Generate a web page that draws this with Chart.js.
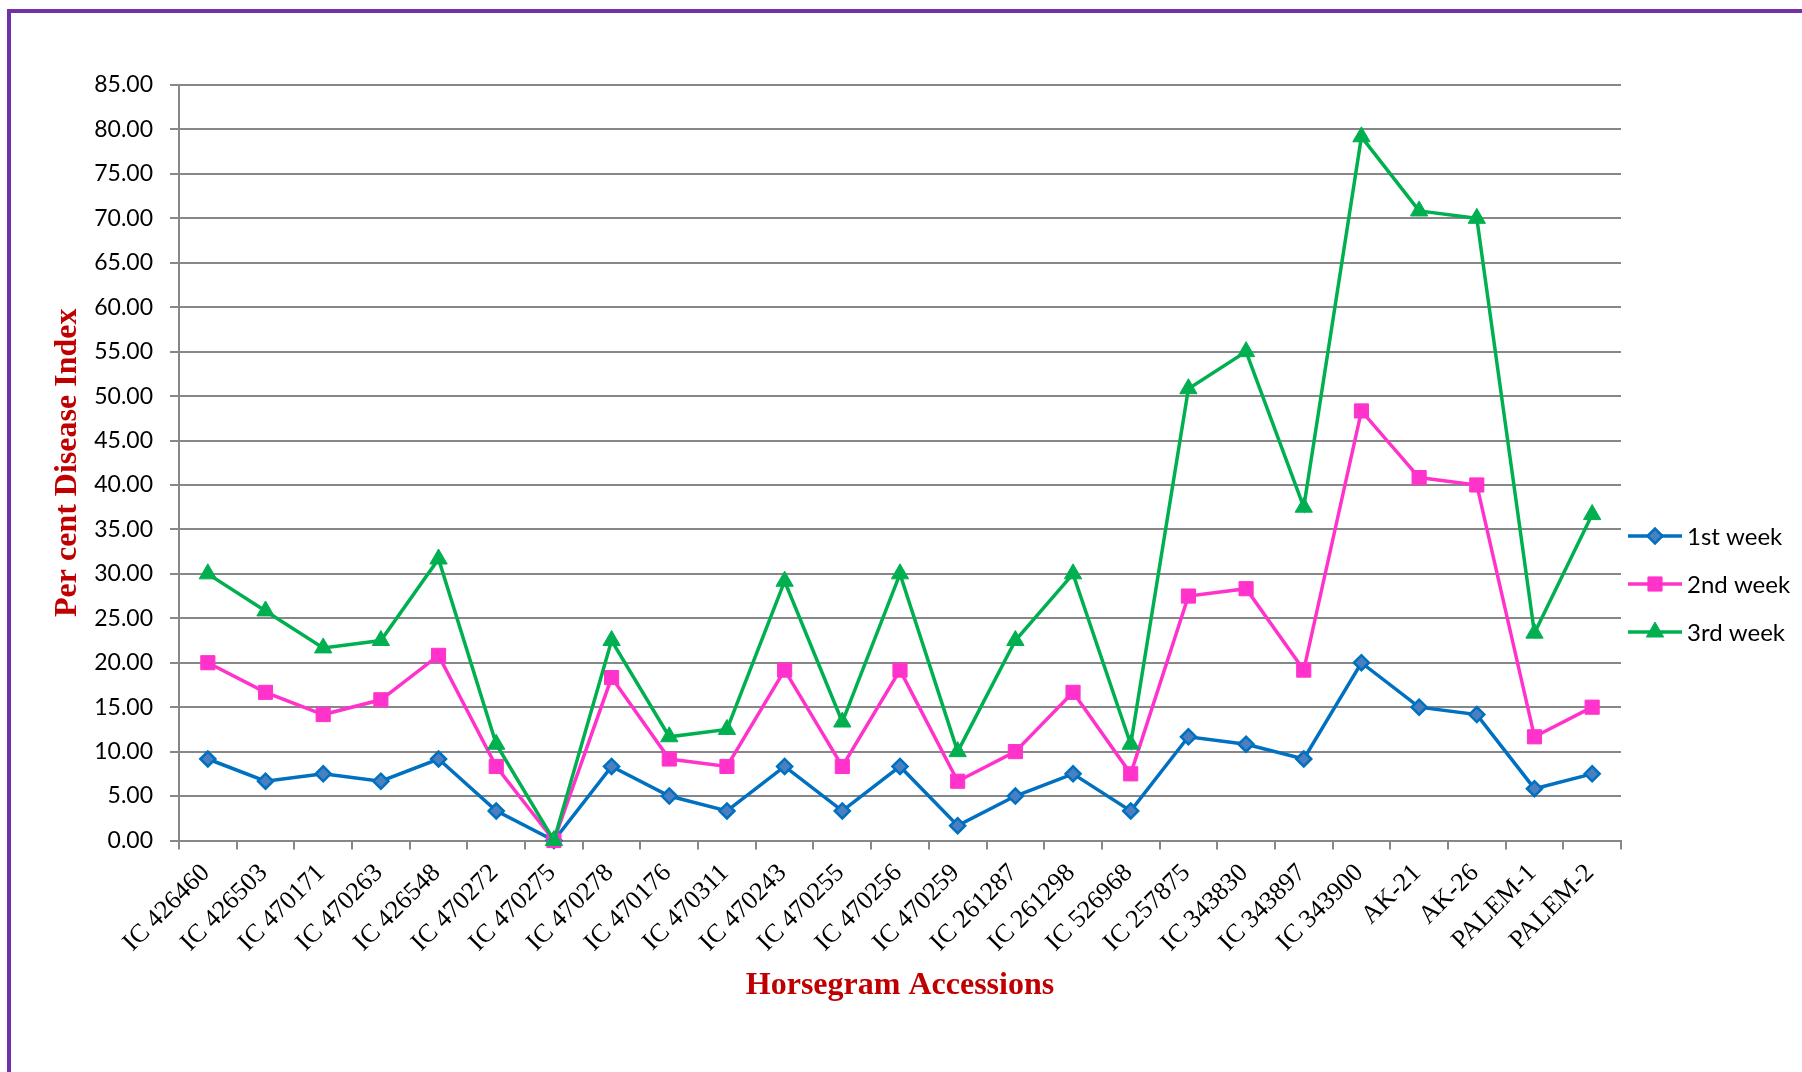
<!DOCTYPE html>
<html>
<head>
<meta charset="utf-8">
<title>Per cent Disease Index - Horsegram Accessions</title>
<script src="https://cdn.jsdelivr.net/npm/chart.js@4.4.0/dist/chart.umd.min.js"></script>
<style>
    html, body { margin: 0; padding: 0; background: #ffffff; }
    #wrap { position: relative; width: 1802px; height: 1072px; overflow: hidden; }
    #frame {
        position: absolute; left: 7px; top: 9px; width: 1900px; height: 1200px;
        border-top: 4px solid #7232a6; border-left: 4px solid #7232a6;
    }
    #diseaseChart { position: absolute; left: 0; top: 0; }
</style>
</head>
<body>
<div id="wrap">
    <div id="frame"></div>
    <canvas id="diseaseChart" width="1802" height="1072"></canvas>
</div>
<script>
const accessions = [
    'IC 426460', 'IC 426503', 'IC 470171', 'IC 470263', 'IC 426548',
    'IC 470272', 'IC 470275', 'IC 470278', 'IC 470176', 'IC 470311',
    'IC 470243', 'IC 470255', 'IC 470256', 'IC 470259', 'IC 261287',
    'IC 261298', 'IC 526968', 'IC 257875', 'IC 343830', 'IC 343897',
    'IC 343900', 'AK-21', 'AK-26', 'PALEM-1', 'PALEM-2'
];
const seriesNames = ['1st week', '2nd week', '3rd week'];
const week1 = [9.17, 6.67, 7.50, 6.67, 9.17, 3.33, 0.00, 8.33, 5.00, 3.33, 8.33, 3.33, 8.33,
    1.67, 5.00, 7.50, 3.33, 11.67, 10.83, 9.17, 20.00, 15.00, 14.17, 5.83, 7.50];
const week2 = [20.00, 16.67, 14.17, 15.83, 20.83, 8.33, 0.00, 18.33, 9.17, 8.33, 19.17, 8.33, 19.17,
    6.67, 10.00, 16.67, 7.50, 27.50, 28.33, 19.17, 48.33, 40.83, 40.00, 11.67, 15.00];
const week3 = [30.00, 25.83, 21.67, 22.50, 31.67, 10.83, 0.00, 22.50, 11.67, 12.50, 29.17, 13.33, 30.00,
    10.00, 22.50, 30.00, 10.83, 50.83, 55.00, 37.50, 79.17, 70.83, 70.00, 23.33, 36.67];
const yMin = 0;
const yMax = 85;
const yStep = 5;

const gridColor = '#878787';
const titleColor = '#c00000';
const tickFont = 'Lato';
const serifFont = 'Liberation Serif';

// legend drawn by hand: line with the marker in the middle, like the Excel one
const lineLegend = {
    id: 'lineLegend',
    afterDraw(chart) {
        const ctx = chart.ctx;
        const x0 = 1628, x1 = 1682, textX = 1687;
        chart.data.datasets.forEach((ds, i) => {
            const y = 536 + 48 * i;
            ctx.save();
            ctx.strokeStyle = ds.borderColor;
            ctx.lineWidth = ds.borderWidth;
            ctx.beginPath();
            ctx.moveTo(x0, y);
            ctx.lineTo(x1, y);
            ctx.stroke();
            ctx.fillStyle = ds.pointBackgroundColor;
            ctx.strokeStyle = ds.pointBorderColor;
            ctx.lineWidth = ds.pointBorderWidth;
            Chart.helpers.drawPoint(ctx, {
                pointStyle: ds.pointStyle,
                radius: ds.pointRadius,
                rotation: 0,
                borderWidth: ds.pointBorderWidth
            }, (x0 + x1) / 2, y);
            ctx.fillStyle = '#000000';
            ctx.font = '24px ' + tickFont;
            ctx.textAlign = 'left';
            ctx.textBaseline = 'middle';
            ctx.fillText(ds.label, textX, y + 1);
            ctx.restore();
        });
    }
};

function makeDataset(label, values, color, style) {
    return Object.assign({
        label: label,
        data: values,
        borderColor: color,
        borderWidth: 3.5,
        tension: 0,
        fill: false,
        clip: false,
        pointBorderColor: color,
        pointBackgroundColor: color,
        pointBorderWidth: 1,
        pointHoverRadius: 0
    }, style);
}

function renderChart() {
    const ctx = document.getElementById('diseaseChart').getContext('2d');
    new Chart(ctx, {
        type: 'line',
        data: {
            labels: accessions,
            datasets: [
                makeDataset(seriesNames[0], week1, '#0070c0',
                    { pointStyle: 'rectRot', pointRadius: 7.5, pointBackgroundColor: '#4a7fc0', pointBorderWidth: 2.5, order: 3 }),
                makeDataset(seriesNames[1], week2, '#ff33cc',
                    { pointStyle: 'rect', pointRadius: 10, order: 2 }),
                makeDataset(seriesNames[2], week3, '#00b050',
                    { pointStyle: 'triangle', pointRadius: 10, order: 1 })
            ]
        },
        options: {
            responsive: false,
            animation: false,
            layout: { padding: { top: 85, right: 181, bottom: 0, left: 0 } },
            plugins: {
                legend: { display: false },
                tooltip: { enabled: false }
            },
            scales: {
                x: {
                    offset: true,
                    afterFit: scale => { scale.height = 231.5; },
                    grid: {
                        offset: true,
                        drawOnChartArea: false,
                        drawTicks: true,
                        tickLength: 9,
                        color: gridColor,
                        lineWidth: 2
                    },
                    border: { display: true, color: gridColor, width: 2 },
                    ticks: {
                        autoSkip: false,
                        maxRotation: 45,
                        minRotation: 45,
                        padding: 8.5,
                        labelOffset: -2,
                        color: '#000000',
                        font: { family: serifFont, size: 26 }
                    },
                    title: {
                        display: true,
                        text: 'Horsegram Accessions',
                        color: titleColor,
                        font: { family: serifFont, size: 32, weight: 'bold' },
                        padding: { top: 0, bottom: 67 }
                    }
                },
                y: {
                    min: yMin,
                    max: yMax,
                    afterFit: scale => { scale.width = 179; },
                    grid: {
                        color: gridColor,
                        lineWidth: 2,
                        drawTicks: true,
                        tickLength: 9
                    },
                    border: { display: true, color: gridColor, width: 2 },
                    ticks: {
                        stepSize: yStep,
                        padding: 17,
                        color: '#000000',
                        font: { family: tickFont, size: 23 },
                        callback: value => Number(value).toFixed(2)
                    },
                    title: {
                        display: true,
                        text: 'Per cent Disease Index',
                        color: titleColor,
                        font: { family: serifFont, size: 32, weight: 'bold' },
                        padding: { top: 49, bottom: 0 }
                    }
                }
            }
        },
        plugins: [lineLegend]
    });
}

renderChart();
</script>
</body>
</html>
